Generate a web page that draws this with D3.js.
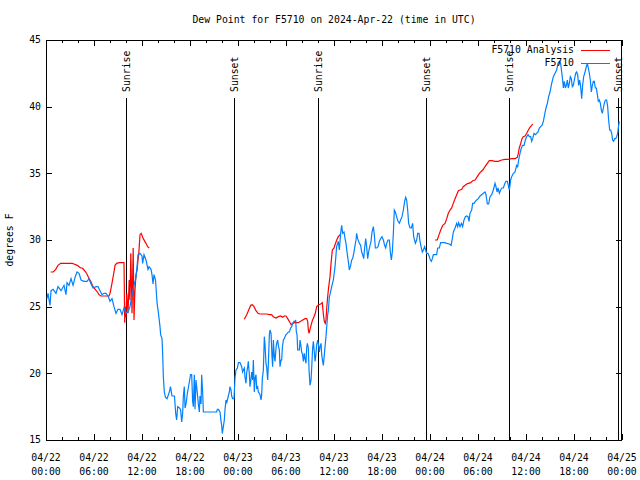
<!DOCTYPE html>
<html><head><meta charset="utf-8">
<script src="https://cdn.jsdelivr.net/npm/d3@7"></script>
<style>
html,body{margin:0;padding:0;background:#fff;}
svg{display:block;}
text{font-family:"DejaVu Sans Mono",monospace;font-size:9.8px;fill:#000;}
</style></head>
<body>
<svg id="chart" width="640" height="480"></svg>
<script>
// ---- data (hours since 2024-04-22 00:00 UTC, dew point °F) ----
const obsHours = [0.13,0.25,0.5,0.63,0.88,1.25,1.5,1.88,2.25,2.5,2.63,2.88,3.13,3.38,3.63,3.88,4.13,4.38,4.75,5.13,5.38,5.63,5.88,6.25,6.5,6.75,7.0,7.25,7.5,7.75,8.0,8.25,8.5,8.75,9.0,9.25,9.5,9.75,10.0,10.25,10.5,10.75,11.0,11.25,11.38,11.5,11.75,12.0,12.08,12.25,12.5,12.75,12.88,13.13,13.25,13.38,13.5,13.69,13.88,14.06,14.25,14.33,14.5,14.58,14.67,14.79,14.94,15.13,15.42,15.56,15.75,16.06,16.21,16.33,16.46,16.69,16.83,16.96,17.08,17.17,17.29,17.38,17.5,17.67,17.79,17.96,18.06,18.21,18.33,18.42,18.54,18.63,18.75,18.92,19.04,19.17,19.25,19.38,19.46,19.58,19.67,20.5,21.33,21.42,21.54,21.75,21.88,21.96,22.04,22.17,22.29,22.38,22.5,22.58,22.67,22.79,22.92,23.0,23.13,23.21,23.33,23.5,23.63,23.75,23.92,24.06,24.25,24.33,24.46,24.58,24.67,24.79,24.88,25.0,25.08,25.21,25.29,25.42,25.5,25.63,25.71,25.83,25.92,26.04,26.13,26.25,26.33,26.46,26.54,26.67,26.75,26.88,26.96,27.04,27.17,27.29,27.38,27.5,27.58,27.71,27.79,27.92,28.0,28.13,28.25,28.33,28.42,28.54,28.63,28.75,28.83,28.96,29.04,29.17,29.25,29.38,29.46,29.54,29.67,29.79,29.88,30.0,30.17,30.29,30.42,30.58,30.71,30.83,31.0,31.13,31.21,31.29,31.38,31.46,31.67,31.75,31.88,31.96,32.08,32.17,32.29,32.38,32.5,32.58,32.67,32.79,32.88,33.0,33.13,33.21,33.33,33.42,33.54,33.63,33.71,33.83,33.96,34.04,34.17,34.25,34.38,34.46,34.58,34.67,34.79,34.88,35.0,35.08,35.21,35.29,35.42,35.5,35.71,35.92,36.13,36.33,36.54,36.67,36.83,36.96,37.08,37.25,37.38,37.5,37.67,37.79,37.92,38.08,38.21,38.33,38.5,38.63,38.75,38.83,38.96,39.17,39.33,39.46,39.58,39.71,39.83,39.96,40.08,40.21,40.33,40.5,40.63,40.75,40.92,41.04,41.17,41.33,41.5,41.67,41.83,42.0,42.17,42.33,42.46,42.58,42.75,42.92,43.04,43.17,43.29,43.42,43.54,43.67,43.83,44.0,44.17,44.33,44.5,44.67,44.83,44.96,45.08,45.21,45.33,45.5,45.67,45.83,45.96,46.17,46.33,46.46,46.63,46.75,46.88,47.04,47.17,47.33,47.46,47.58,47.75,47.92,48.04,48.17,48.29,48.42,48.63,48.83,48.96,49.17,49.33,49.58,49.88,50.08,50.42,50.63,50.79,50.92,51.13,51.33,51.46,51.58,51.75,51.92,52.08,52.25,52.42,52.58,52.75,52.88,53.0,53.21,53.33,53.5,53.67,53.83,54.04,54.25,54.46,54.67,54.88,55.0,55.17,55.33,55.5,55.71,55.92,56.13,56.25,56.38,56.5,56.67,56.83,57.0,57.17,57.33,57.5,57.67,57.79,57.92,58.08,58.21,58.42,58.63,58.83,58.96,59.08,59.25,59.42,59.58,59.75,59.92,60.08,60.25,60.42,60.58,60.71,60.83,61.0,61.17,61.33,61.5,61.67,61.83,62.0,62.17,62.33,62.5,62.67,62.83,63.0,63.21,63.42,63.63,63.83,64.0,64.17,64.33,64.46,64.58,64.67,64.79,64.92,65.04,65.17,65.29,65.42,65.54,65.67,65.79,65.92,66.04,66.21,66.33,66.46,66.58,66.71,66.83,66.96,67.08,67.21,67.38,67.5,67.67,67.79,67.92,68.04,68.17,68.29,68.42,68.54,68.67,68.79,68.92,69.04,69.17,69.29,69.42,69.54,69.67,69.79,69.92,70.08,70.21,70.33,70.46,70.58,70.71,70.83,70.96,71.08,71.21,71.33,71.46,71.58,71.67];
const obsDew = [25.6,26.0,25.1,26.2,26.3,26.0,26.5,26.2,26.6,25.9,26.8,26.6,27.1,26.6,27.2,27.6,27.5,27.0,26.9,26.9,27.1,26.7,26.4,26.5,26.5,26.2,25.9,26.0,26.0,25.8,25.4,25.6,25.0,24.5,24.8,24.8,24.4,24.9,24.5,24.6,25.0,25.9,26.6,27.2,28.0,28.9,29.0,28.8,28.25,28.9,28.5,27.8,28.0,27.8,27.4,26.7,27.4,27.0,25.3,24.5,23.5,22.9,22.6,21.5,19.7,18.6,18.2,18.1,18.6,19.0,18.3,18.3,17.0,16.5,17.5,17.4,17.25,16.35,17.0,18.3,19.0,17.4,17.7,18.5,18.9,19.5,19.9,19.9,17.9,17.5,19.9,17.3,19.5,18.5,17.7,17.1,18.3,17.7,19.9,18.6,17.1,17.1,17.1,17.3,17.3,17.1,16.4,16.1,15.5,16.0,16.5,17.3,18.0,17.75,18.0,18.3,18.6,19.0,18.75,18.3,18.1,18.1,19.7,20.25,20.4,20.8,20.8,20.7,20.5,20.1,20.25,20.4,19.7,19.25,20.0,20.5,20.9,19.9,19.0,19.6,20.1,19.5,21.0,18.6,19.6,19.9,18.9,19.0,18.6,18.5,18.4,18.0,18.4,19.6,20.25,22.75,22.1,20.7,20.5,19.5,20.6,22.9,23.25,23.0,21.25,20.5,22.5,21.25,20.9,21.9,22.25,22.5,22.1,21.75,20.5,21.0,21.0,21.9,22.5,22.6,22.75,22.9,23.0,23.1,23.1,23.4,23.5,23.75,23.9,23.9,24.0,23.1,22.9,21.75,21.75,22.5,22.0,21.6,21.4,20.9,21.5,21.1,20.75,21.9,22.25,21.9,20.25,19.1,19.5,20.4,21.9,22.4,21.6,20.9,21.25,22.1,22.5,22.25,21.6,22.0,22.25,21.4,20.9,20.6,21.4,22.0,22.75,23.4,24.4,24.7,25.75,25.9,26.5,27.0,28.0,29.5,29.9,29.25,30.5,31.1,30.5,30.6,30.1,29.75,28.9,28.4,27.75,28.1,28.5,28.6,29.1,29.6,30.0,30.5,30.1,29.75,29.6,29.1,28.9,28.6,29.4,30.1,29.5,28.6,29.1,29.6,29.9,30.6,31.0,30.4,29.4,29.4,29.5,29.9,30.1,30.25,30.0,29.6,29.4,29.75,30.0,30.0,29.1,28.5,29.1,30.5,32.25,32.1,31.75,31.4,31.25,31.5,31.75,32.25,32.9,33.2,33.0,32.25,31.25,30.9,30.9,31.25,30.25,29.75,30.0,30.5,30.5,29.9,29.5,29.1,29.25,29.5,29.25,29.0,29.0,28.75,28.5,28.4,28.6,28.9,28.9,28.9,29.4,29.4,29.8,29.8,29.8,29.75,29.7,29.6,30.1,30.6,30.9,31.25,31.0,31.3,31.0,31.25,31.0,31.5,31.75,31.8,31.75,31.4,32.0,32.25,32.75,32.75,32.9,33.0,33.1,33.3,33.4,33.5,33.6,33.4,32.7,32.7,33.25,33.4,33.75,34.25,34.0,33.6,33.9,33.5,33.75,33.9,33.9,34.2,34.4,34.4,34.1,33.75,34.5,34.75,35.0,35.1,35.6,35.5,36.0,36.5,36.9,37.1,37.1,37.5,37.75,37.9,37.75,37.75,37.4,37.6,38.0,37.9,38.0,38.1,38.4,38.5,38.6,38.9,39.4,39.9,40.25,40.75,41.1,41.75,42.25,42.5,42.75,43.25,43.4,43.25,42.6,42.0,41.4,41.9,41.4,41.6,42.0,41.4,41.75,42.25,42.1,41.5,41.6,42.0,42.5,42.6,42.4,41.6,42.0,41.5,40.6,41.6,42.25,42.6,42.9,43.25,42.9,42.5,42.0,41.1,41.6,41.9,41.9,41.4,41.4,40.9,40.4,40.5,40.25,39.75,39.5,39.9,40.25,40.5,40.5,40.0,39.0,38.25,38.25,38.0,37.5,37.4,37.6,37.6,37.75,38.0,38.6,38.9];

// Analysis series; null marks a gap in the record
const anaHours = [0.59,0.91,1.21,1.5,1.84,3.29,3.5,3.91,4.13,4.34,4.54,4.75,4.96,5.16,5.38,5.59,5.79,6.0,6.21,6.41,6.63,6.84,7.88,8.0,8.09,8.29,8.5,8.63,8.84,9.13,9.75,9.84,9.9,10.0,10.1,10.25,10.4,10.5,10.6,10.75,10.9,11.0,11.1,11.25,11.4,11.5,11.6,11.75,11.9,12.16,12.5,12.7,12.9,
  18.0,
  24.79,25.09,25.38,25.59,25.79,26.0,26.25,26.5,26.75,27.16,27.59,27.91,28.21,28.41,28.75,29.04,29.34,29.59,29.79,30.0,30.21,30.41,30.63,30.84,31.04,31.25,31.54,31.84,32.09,32.38,32.59,32.71,32.79,32.88,33.0,33.13,33.29,33.5,33.66,33.84,34.09,34.34,34.54,34.66,34.79,34.91,35.0,35.09,35.21,35.34,35.5,35.63,35.79,36.0,36.16,36.34,36.54,36.75,
  42.0,
  48.63,48.91,49.13,49.34,49.59,49.88,50.09,50.29,50.5,50.71,50.91,51.13,51.34,51.54,51.75,51.96,52.16,52.38,52.59,52.79,53.09,53.34,53.63,53.91,54.25,54.59,54.88,55.16,55.41,55.71,56.13,56.54,56.96,57.38,57.79,58.21,58.63,58.91,59.04,59.16,59.34,59.5,59.66,59.88,60.09,60.29,60.5,60.71,60.84];
const anaDew = [27.6,27.6,27.8,28.1,28.25,28.25,28.2,28.1,28.0,27.9,27.9,27.75,27.6,27.4,27.1,26.9,26.6,26.4,26.25,26.1,25.9,25.8,25.8,26.0,26.25,26.9,27.6,28.1,28.25,28.3,28.3,23.8,25.0,24.2,26.0,24.5,27.0,25.5,29.0,24.5,29.4,24.0,26.0,27.4,27.8,28.5,29.0,30.4,30.5,30.1,29.75,29.5,29.4,
  null,
  24.05,24.4,24.8,25.1,25.15,25.0,24.7,24.5,24.45,24.45,24.45,24.4,24.4,24.25,24.15,24.25,24.3,24.2,24.3,24.3,24.1,23.9,23.65,23.75,23.8,23.8,23.8,23.9,24.0,24.1,24.1,23.9,23.25,23.0,23.3,23.6,23.95,24.25,24.5,25.0,25.15,25.2,25.3,24.5,23.9,23.75,24.0,24.9,25.75,26.5,27.25,28.25,29.25,29.4,29.7,30.0,30.25,30.4,
  null,
  30.0,30.0,30.4,30.75,31.1,31.25,31.6,32.0,32.25,32.4,32.75,33.1,33.4,33.7,33.75,33.8,34.0,34.1,34.2,34.25,34.3,34.45,34.5,34.75,35.05,35.25,35.5,35.75,35.95,35.95,35.9,35.9,36.0,36.05,36.05,36.1,36.1,36.2,36.5,36.9,37.25,37.6,37.75,37.8,38.0,38.25,38.45,38.6,38.7];

const sunHours  = [10.04, 23.54, 34.04, 47.54, 57.91, 71.54];
const sunLabels = ["Sunrise","Sunset","Sunrise","Sunset","Sunrise","Sunset"];
const yTicks = [15,20,25,30,35,40,45];
const xTickHours = [0,6,12,18,24,30,36,42,48,54,60,66,72];
const xMinorHours = d3.range(0, 73, 2);
const seriesNames = ["F5710 Analysis", "F5710"];
const seriesColors = ["#ff0000", "#0080ff"];
const titleText = "Dew Point for F5710 on 2024-Apr-22 (time in UTC)";
const yLabel = "degrees F";

// ---- drawing ----
const t0 = Date.UTC(2024, 3, 22, 0, 0);
const toDate = h => new Date(t0 + h * 3600e3);
const L = 46, R = 622, T = 40, B = 440;
const x = d3.scaleUtc().domain([toDate(0), toDate(72)]).range([L, R]);
const y = d3.scaleLinear().domain([15, 45]).range([B, T]);
const svg = d3.select("#chart");

// title
svg.append("text").attr("x", (L + R) / 2).attr("y", 23).attr("text-anchor", "middle").text(titleText);
// y label
svg.append("text").attr("transform", `translate(13,${(T + B) / 2}) rotate(-90)`).attr("text-anchor", "middle").text(yLabel);

const crisp = v => Math.round(v) + 0.5;
const g = svg.append("g").attr("stroke", "#000").attr("stroke-width", 1).attr("shape-rendering", "crispEdges");

// x ticks (bottom & top), majors every 6 h, minors every 2 h
xMinorHours.forEach(h => {
  const xx = crisp(x(toDate(h)));
  const len = h % 6 === 0 ? 6 : 3;
  g.append("line").attr("x1", xx).attr("x2", xx).attr("y1", B).attr("y2", B - len);
  g.append("line").attr("x1", xx).attr("x2", xx).attr("y1", T).attr("y2", T + len);
});
// y ticks (left & right)
yTicks.forEach(v => {
  const yy = crisp(y(v));
  g.append("line").attr("x1", L).attr("x2", L + 6).attr("y1", yy).attr("y2", yy);
  g.append("line").attr("x1", R).attr("x2", R - 6).attr("y1", yy).attr("y2", yy);
  svg.append("text").attr("x", L - 5).attr("y", y(v)).attr("dy", "0.35em").attr("text-anchor", "end").text(v);
});
// x tick labels
const fmtD = d3.utcFormat("%m/%d"), fmtT = d3.utcFormat("%H:%M");
xTickHours.forEach(h => {
  const d = toDate(h);
  const t = svg.append("text").attr("text-anchor", "middle");
  t.append("tspan").attr("x", x(d)).attr("y", 461).text(fmtD(d));
  t.append("tspan").attr("x", x(d)).attr("y", 475).text(fmtT(d));
});

// sunrise / sunset markers
sunHours.forEach((h, i) => {
  const xx = crisp(x(toDate(h)));
  g.append("line").attr("x1", xx).attr("x2", xx).attr("y1", 98).attr("y2", B);
  svg.append("text").attr("transform", `translate(${xx + 0.5},92) rotate(-90)`)
    .attr("text-anchor", "start").attr("dy", "0.35em").text(sunLabels[i]);
});

// border
g.append("rect").attr("x", L + 0.5).attr("y", T + 0.5).attr("width", R - L - 1).attr("height", B - T).attr("fill", "none");

// series
const lineGen = d3.line().defined(d => d[1] !== null).x(d => x(toDate(d[0]))).y(d => y(d[1]));
const anaData = anaHours.map((h, i) => [h, anaDew[i]]);
const obsData = obsHours.map((h, i) => [h, obsDew[i]]);
svg.append("path").datum(anaData).attr("d", lineGen).attr("fill", "none").attr("stroke", seriesColors[0]).attr("stroke-width", 1.2);
svg.append("path").datum(obsData).attr("d", lineGen).attr("fill", "none").attr("stroke", seriesColors[1]).attr("stroke-width", 1.2);

// legend
seriesNames.forEach((n, i) => {
  const ly = 50 + i * 13;
  svg.append("text").attr("x", 574).attr("y", ly).attr("dy", "0.35em").attr("text-anchor", "end").text(n);
  svg.append("line").attr("x1", 581).attr("x2", 610).attr("y1", ly + 0.5).attr("y2", ly + 0.5)
    .attr("stroke", seriesColors[i]).attr("stroke-width", 1);
});
</script>
</body></html>
